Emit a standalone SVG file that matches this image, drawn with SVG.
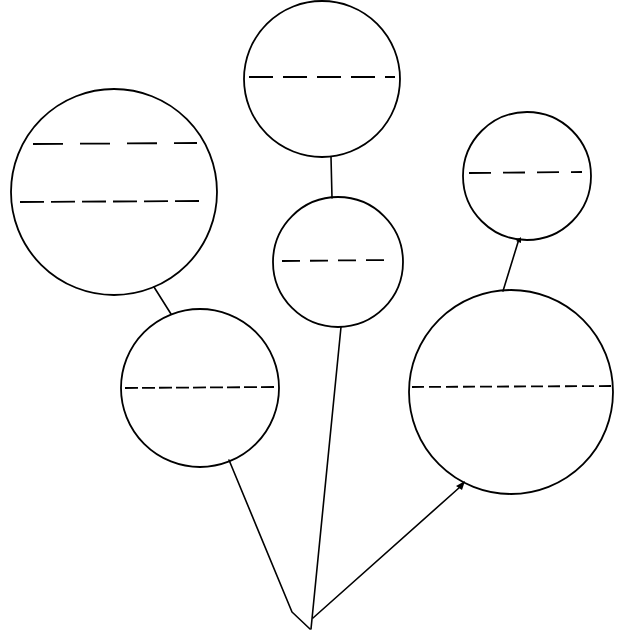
<svg xmlns="http://www.w3.org/2000/svg" width="617" height="635" viewBox="0 0 617 635">
<style>
.c{fill:none;stroke:#000;stroke-width:1.8}
.d{stroke:#000;stroke-width:1.8;fill:none}
.l{stroke:#000;stroke-width:1.6;fill:none;stroke-linecap:round;stroke-linejoin:round}
</style>
<rect width="617" height="635" fill="#fff"/>
<g id="connectors">
<line class="l" x1="331" y1="157" x2="332" y2="198"/>
<line class="l" x1="154" y1="287" x2="171" y2="314"/>
<line class="l" x1="519" y1="239" x2="503" y2="291"/>
<path d="M516,241 L521,237 L521,243 Z" fill="#000"/>
<polyline class="l" points="229,460 292,612 310,629"/>
<line class="l" x1="341" y1="327" x2="311" y2="629"/>
<line class="l" x1="460" y1="487" x2="313" y2="618"/>
<path d="M456,486 L465,481 L462,490 Z" fill="#000"/>
</g>
<g id="nodeA">
<circle class="c" cx="322" cy="79" r="78"/>
<line class="d" x1="249" y1="77" x2="395" y2="77" stroke-dasharray="24,10"/>
</g>
<g id="nodeB">
<circle class="c" cx="114" cy="192" r="103"/>
<line class="d" x1="33" y1="144" x2="197" y2="143" stroke-dasharray="30,17"/>
<line class="d" x1="20" y1="202" x2="200" y2="201" stroke-dasharray="24,7"/>
</g>
<g id="nodeC">
<circle class="c" cx="338" cy="262" r="65"/>
<line class="d" x1="282" y1="261" x2="388" y2="260" stroke-dasharray="18,10"/>
</g>
<g id="nodeD">
<circle class="c" cx="527" cy="176" r="64"/>
<line class="d" x1="469" y1="173" x2="582" y2="172" stroke-dasharray="22,12"/>
</g>
<g id="nodeE">
<circle class="c" cx="200" cy="388" r="79"/>
<line class="d" x1="125" y1="388" x2="276" y2="387" stroke-dasharray="13,4"/>
</g>
<g id="nodeF">
<circle class="c" cx="511" cy="392" r="102"/>
<line class="d" x1="412" y1="387" x2="612" y2="386" stroke-dasharray="12,5"/>
</g>
</svg>
